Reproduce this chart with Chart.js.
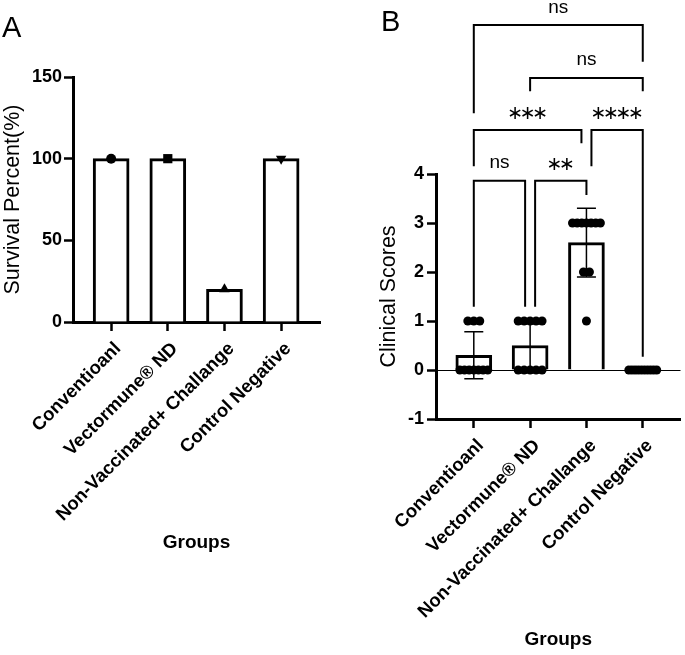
<!DOCTYPE html>
<html>
<head>
<meta charset="utf-8">
<script src="https://cdn.jsdelivr.net/npm/chart.js@4.4.1/dist/chart.umd.min.js"></script>
<style>
  body { margin: 0; background: #fff; }
  #wrap { position: relative; width: 685px; height: 655px; overflow: hidden; background: #fff; }
  canvas { position: absolute; top: 0; }
  .panel { position: absolute; font-family: 'Liberation Sans', Arial, sans-serif; font-size: 29px; line-height: 29px; color: #000; }
</style>
</head>
<body>
<div id="wrap">
  <canvas id="chartA" width="340" height="655" style="left:0;width:340px;height:655px"></canvas>
  <canvas id="chartB" width="340" height="655" style="left:345px;width:340px;height:655px"></canvas>
  <div class="panel" style="left:2px;top:13px">A</div>
  <div class="panel" style="left:381px;top:7px">B</div>
</div>
<script>
// groups shared by both panels
const groups = ['Conventioanl', 'Vectormune® ND', 'Non-Vaccinated+ Challange', 'Control Negative'];
const groupIdx = [0, 1, 2, 3];

// panel A
const survivalPercent = [100, 100, 20, 100];
const survivalTicks = [0, 50, 100, 150];

// panel B
const scoreMean = [0.3, 0.5, 2.6, 0];
const scoreSD = [0.48, 0.53, 0.70, 0];
const scoreTicks = [-1, 0, 1, 2, 3, 4];
const scoresConventional = [1, 1, 1, 0, 0, 0, 0, 0, 0, 0];
const scoresVectormune = [1, 1, 1, 1, 1, 0, 0, 0, 0, 0];
const scoresNonVaccinated = [3, 3, 3, 3, 3, 3, 3, 2, 2, 1];
const scoresControl = [0, 0, 0, 0, 0, 0, 0, 0, 0, 0];
const sigPairs = [[0, 1], [1, 2], [0, 2], [2, 3], [1, 3], [0, 3]];
const sigLabels = ['ns', '**', '***', '****', 'ns', 'ns'];

// layout of the significance brackets (in y-axis units above the plot)
const bracketLevel = [3.86, 3.86, 4.90, 4.90, 5.96, 7.04];
const bracketLegs = [[1.29, 1.29], [1.29, 3.57], [4.16, 4.63], [4.16, 0.27], [5.69, 5.69], [5.24, 6.29]];
const bracketShift = [[0, -5], [5, 0], [0, -5], [5, 0], [0, 0], [0, 0]];

const FONT = "'Liberation Sans', Arial, sans-serif";
Chart.defaults.font.family = FONT;
Chart.defaults.color = '#000';

function xAxis(min, max, height, titlePad) {
  return {
    type: 'linear', min: min, max: max, bounds: 'data', offset: false,
    afterBuildTicks: s => { s.ticks = groupIdx.map(v => ({ value: v })); },
    afterFit: s => { s.height = height; s.paddingLeft = 0; s.paddingRight = 0; },
    grid: { offset: false, drawOnChartArea: false, tickLength: 9, tickWidth: 2.5, tickColor: '#000' },
    border: { color: '#000', width: 3 },
    ticks: {
      autoSkip: false, minRotation: 45, maxRotation: 45, padding: 7, labelOffset: 7,
      font: { size: 18.5, weight: 'bold' },
      callback: v => groups[v]
    },
    title: { display: true, text: 'Groups', font: { size: 19, weight: 'bold' }, padding: { top: 0, bottom: titlePad } }
  };
}

function yAxis(min, max, tickVals, width, text, titlePad, labelPad) {
  return {
    type: 'linear', min: min, max: max,
    afterBuildTicks: s => { s.ticks = tickVals.map(v => ({ value: v })); },
    afterFit: s => { s.width = width; s.paddingTop = 0; s.paddingBottom = 0; },
    grid: { drawOnChartArea: false, tickLength: 9, tickWidth: 2.5, tickColor: '#000' },
    border: { color: '#000', width: 3 },
    ticks: { padding: labelPad, font: { size: 18, weight: 'bold' } },
    title: { display: true, text: text, font: { size: 21.5 }, padding: { top: titlePad, bottom: 0 } }
  };
}

// spread equal scores sideways like a column scatter
function swarm(vals, g) {
  const counts = {};
  vals.forEach(v => { counts[v] = (counts[v] || 0) + 1; });
  const pts = [];
  Object.keys(counts).forEach(k => {
    const n = counts[k];
    const step = n > 1 ? Math.min(0.106, 0.495 / (n - 1)) : 0;
    for (let j = 0; j < n; j++) pts.push({ x: g + (j - (n - 1) / 2) * step, y: +k });
  });
  return pts;
}

// ---------- A ----------
new Chart(document.getElementById('chartA'), {
  type: 'bar',
  data: {
    datasets: [{
      type: 'scatter',
      data: groupIdx.map(i => ({ x: i, y: survivalPercent[i] })),
      pointStyle: ['circle', 'rect', 'triangle', 'triangle'],
      pointRotation: [0, 0, 0, 180],
      pointRadius: [5, 6.5, 6, 6],
      pointBackgroundColor: '#000',
      pointBorderWidth: 0
    }, {
      type: 'bar',
      data: groupIdx.map(i => ({ x: i, y: survivalPercent[i] })),
      backgroundColor: '#fff',
      borderColor: '#000',
      borderWidth: 3,
      borderSkipped: 'start',
      barThickness: 36
    }]
  },
  options: {
    responsive: false, animation: false, events: [],
    layout: { padding: { top: 77, left: 0, right: 20, bottom: 0 } },
    plugins: { legend: { display: false }, tooltip: { enabled: false } },
    scales: {
      x: xAxis(-0.673, 3.686, 333, 100.6),
      y: yAxis(0, 150, survivalTicks, 73, 'Survival Percent(%)', 0, 2)
    }
  }
});

// ---------- B ----------
const scoreSets = [scoresConventional, scoresVectormune, scoresNonVaccinated, scoresControl];

const errorBars = {
  id: 'errorBars',
  afterDatasetDraw(chart, args) {
    if (args.index !== 1) return;
    const { ctx, scales: { x, y } } = chart;
    ctx.save();
    ctx.strokeStyle = '#000';
    ctx.lineWidth = 1.5;
    scoreMean.forEach((m, i) => {
      if (!scoreSD[i]) return;
      const px = x.getPixelForValue(i);
      const t = y.getPixelForValue(m + scoreSD[i]);
      const b = y.getPixelForValue(m - scoreSD[i]);
      ctx.beginPath();
      ctx.moveTo(px, t); ctx.lineTo(px, b);
      ctx.moveTo(px - 9.5, t); ctx.lineTo(px + 9.5, t);
      ctx.moveTo(px - 9.5, b); ctx.lineTo(px + 9.5, b);
      ctx.stroke();
    });
    ctx.restore();
  }
};

const brackets = {
  id: 'brackets',
  afterDraw(chart) {
    const { ctx, scales: { x, y } } = chart;
    ctx.save();
    ctx.strokeStyle = '#000';
    ctx.fillStyle = '#000';
    ctx.lineWidth = 2;
    ctx.lineJoin = 'miter';
    sigPairs.forEach(([a, b], k) => {
      const xa = x.getPixelForValue(a) + bracketShift[k][0];
      const xb = x.getPixelForValue(b) + bracketShift[k][1];
      const yb = y.getPixelForValue(bracketLevel[k]);
      ctx.beginPath();
      ctx.moveTo(xa, y.getPixelForValue(bracketLegs[k][0]));
      ctx.lineTo(xa, yb);
      ctx.lineTo(xb, yb);
      ctx.lineTo(xb, y.getPixelForValue(bracketLegs[k][1]));
      ctx.stroke();
      const cx = (xa + xb) / 2;
      const lab = sigLabels[k];
      ctx.textAlign = 'center';
      ctx.textBaseline = 'alphabetic';
      if (lab === 'ns') {
        ctx.font = '19px ' + FONT;
        ctx.fillText(lab, cx, yb - 12.5);
      } else {
        ctx.font = "19px 'DejaVu Sans'";
        const m = ctx.measureText('\u2217');
        const off = (m.actualBoundingBoxAscent - m.actualBoundingBoxDescent) / 2;
        const n = lab.length;
        for (let j = 0; j < n; j++) {
          ctx.fillText('\u2217', cx + (j - (n - 1) / 2) * 12.5, yb - 17 + off);
        }
      }
    });
    ctx.restore();
  }
};

const yB = yAxis(-1, 4, scoreTicks, 91, 'Clinical Scores', 31, 3);
yB.grid = {
  drawOnChartArea: true, lineWidth: 1,
  color: c => (c.tick && c.tick.value === 0 ? '#000' : 'rgba(0,0,0,0)'),
  tickLength: 9, tickWidth: 2.5, tickColor: '#000'
};

new Chart(document.getElementById('chartB'), {
  type: 'bar',
  data: {
    datasets: [{
      type: 'scatter',
      data: scoreSets.map((s, g) => swarm(s, g)).flat(),
      pointRadius: 4.5,
      pointBackgroundColor: '#000',
      pointBorderWidth: 0
    }, {
      type: 'bar',
      data: groupIdx.map(i => ({ x: i, y: scoreMean[i] })),
      backgroundColor: '#fff',
      borderColor: '#000',
      borderWidth: 3,
      borderSkipped: 'start',
      barThickness: 36
    }]
  },
  options: {
    responsive: false, animation: false, events: [],
    layout: { padding: { top: 174, left: 0, right: 3, bottom: 0 } },
    plugins: { legend: { display: false }, tooltip: { enabled: false } },
    scales: {
      x: xAxis(-0.671, 3.67, 236, 3.6),
      y: yB
    }
  },
  plugins: [errorBars, brackets]
});
</script>
</body>
</html>
